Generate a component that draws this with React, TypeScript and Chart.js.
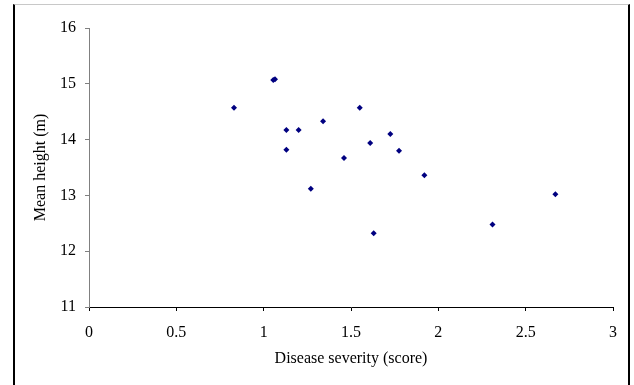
import React, { useEffect, useRef } from "react";
import { Chart, registerables } from "chart.js";

Chart.register(...registerables);

const severity = [0.83, 1.055, 1.065, 1.13, 1.2, 1.13, 1.27, 1.55, 1.34, 1.725, 1.61, 1.775, 1.46, 1.92, 2.67, 2.31, 1.63];
const meanHeight = [14.57, 15.07, 15.08, 14.17, 14.17, 13.82, 13.12, 14.57, 14.33, 14.1, 13.94, 13.8, 13.67, 13.36, 13.02, 12.48, 12.32];

const xTitle = "Disease severity (score)";
const yTitle = "Mean height (m)";
const xMin = 0, xMax = 3, xStep = 0.5;
const yMin = 11, yMax = 16, yStep = 1;

const FONT = "'Liberation Serif', 'Times New Roman', serif";

export default function App() {
  const ref = useRef<HTMLCanvasElement | null>(null);

  useEffect(() => {
    if (!ref.current) return;
    const pts = severity.map((x, i) => ({ x, y: meanHeight[i] }));
    const chart = new Chart(ref.current, {
      type: "scatter",
      data: {
        datasets: [
          {
            data: pts,
            backgroundColor: "#000080",
            borderColor: "#000080",
            borderWidth: 0,
            pointStyle: "rectRot",
            pointRadius: 3,
          },
        ],
      },
      options: {
        animation: false,
        responsive: false,
        layout: { padding: { left: 27, top: 28, right: 21, bottom: 13 } },
        plugins: { legend: { display: false }, tooltip: { enabled: false } },
        scales: {
          x: {
            type: "linear",
            min: xMin,
            max: xMax,
            afterFit: (s: any) => { s.height = 65; },
            border: { display: true, color: "#000000", width: 1 },
            grid: { display: true, drawOnChartArea: false, drawTicks: true, tickLength: 4, color: "#000000" },
            ticks: {
              stepSize: xStep,
              padding: 12,
              color: "#000000",
              font: { family: FONT, size: 16 },
              maxRotation: 0,
              callback: (v: any) => String(Number(v)),
            },
            title: { display: true, text: xTitle, color: "#000000", font: { family: FONT, size: 16 } },
          },
          y: {
            type: "linear",
            min: yMin,
            max: yMax,
            afterFit: (s: any) => { s.width = 62; },
            border: { display: true, color: "#808080", width: 1 },
            grid: { display: true, drawOnChartArea: false, drawTicks: true, tickLength: 4, color: "#808080" },
            ticks: {
              stepSize: yStep,
              padding: 9,
              color: "#000000",
              font: { family: FONT, size: 16 },
              callback: (v: any) => String(Number(v)),
            },
            title: { display: true, text: yTitle, color: "#000000", font: { family: FONT, size: 16 } },
          },
        },
      },
    });
    return () => chart.destroy();
  }, []);

  return (
    <div style={{ position: "fixed", left: 0, top: 0, width: 634, height: 385, background: "#ffffff", overflow: "hidden" }}>
      <div
        style={{
          position: "absolute",
          left: 13,
          top: 4,
          width: 613,
          height: 400,
          borderLeft: "2px solid #000000",
          borderRight: "2px solid #000000",
          borderTop: "1px solid #c8c8c8",
        }}
      />
      <canvas ref={ref} width={634} height={385} style={{ position: "absolute", left: 0, top: 0, width: 634, height: 385 }} />
    </div>
  );
}
